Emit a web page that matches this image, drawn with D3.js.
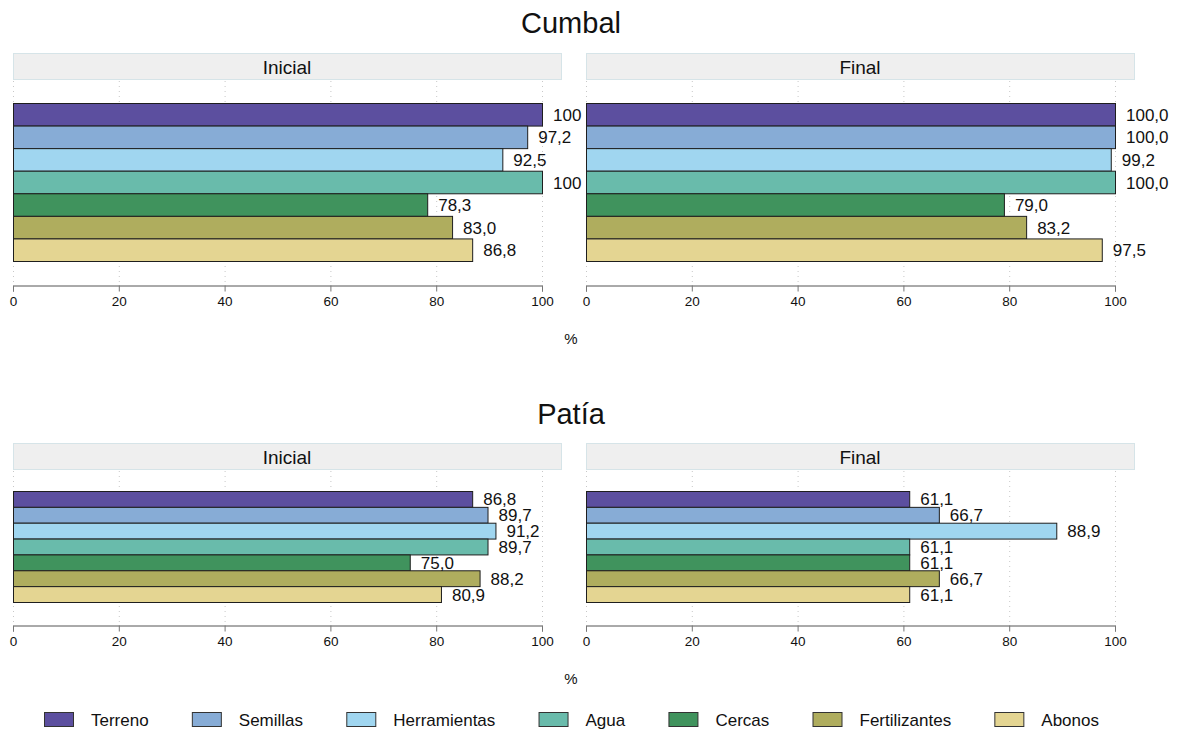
<!DOCTYPE html>
<html><head><meta charset="utf-8">
<script src="https://cdn.jsdelivr.net/npm/d3@7"></script>
<style>body{margin:0;background:#fff}svg{display:block;font-family:"Liberation Sans",Arial,sans-serif}</style>
</head><body><svg id="c" width="1184" height="730"></svg>
<script>
const categories = ["Terreno","Semillas","Herramientas","Agua","Cercas","Fertilizantes","Abonos"];
const colors = ["#5c4f9f","#87acd6","#a0d6f0","#69bbab","#40935d","#afad5e","#e4d592"];
const ticks = [0,20,40,60,80,100];
const cumbalInicial = [100, 97.2, 92.5, 100, 78.3, 83.0, 86.8];
const cumbalInicialLabels = ["100","97,2","92,5","100","78,3","83,0","86,8"];
const cumbalFinal = [100, 100, 99.2, 100, 79.0, 83.2, 97.5];
const cumbalFinalLabels = ["100,0","100,0","99,2","100,0","79,0","83,2","97,5"];
const patiaInicial = [86.8, 89.7, 91.2, 89.7, 75.0, 88.2, 80.9];
const patiaInicialLabels = ["86,8","89,7","91,2","89,7","75,0","88,2","80,9"];
const patiaFinal = [61.1, 66.7, 88.9, 61.1, 61.1, 66.7, 61.1];
const patiaFinalLabels = ["61,1","66,7","88,9","61,1","61,1","66,7","61,1"];

const svg = d3.select("#c");

function panel(x0, headerY, barTop, barBot, axisY, title, values, labels) {
  const g = svg.append("g");
  const x = d3.scaleLinear().domain([0,100]).range([x0, x0+529]);
  const y = d3.scaleBand().domain(categories).range([barTop, barBot]).padding(0);
  // header
  g.append("rect").attr("x", x0+0.5).attr("y", headerY+0.5).attr("width", 548).attr("height", 26)
    .attr("fill","#efefef").attr("stroke","#d6e4e8");
  g.append("text").attr("x", x0+274).attr("y", headerY+14).attr("text-anchor","middle")
    .attr("dominant-baseline","central").attr("font-size",19).attr("fill","#111").text(title);
  // grid
  g.selectAll("line.grid").data(ticks).join("line")
    .attr("x1", d=>x(d)+0.5).attr("x2", d=>x(d)+0.5).attr("y1", headerY+28).attr("y2", axisY)
    .attr("stroke","#c8c8c8").attr("stroke-width",1).attr("stroke-dasharray","1,4");
  // bars
  g.selectAll("rect.bar").data(categories).join("rect")
    .attr("x", x(0)+0.5).attr("y", d=>y(d)+0.5)
    .attr("width", (d,i)=>x(values[i])-x(0)).attr("height", y.bandwidth())
    .attr("fill", (d,i)=>colors[i]).attr("stroke","#1e1e1e").attr("stroke-width",1);
  // labels
  g.selectAll("text.lab").data(categories).join("text")
    .attr("x", (d,i)=>x(values[i])+11).attr("y", d=>y(d)+y.bandwidth()/2+1)
    .attr("dominant-baseline","central").attr("font-size",17).attr("fill","#111")
    .text((d,i)=>labels[i]);
  // axis
  const ax = g.append("g").attr("transform",`translate(0,${axisY+0.5})`)
    .call(d3.axisBottom(x).tickValues(ticks).tickSize(6).tickFormat(d3.format("d")));
  ax.select(".domain").attr("stroke","#555");
  ax.selectAll(".tick line").attr("stroke","#777");
  ax.selectAll(".tick text").attr("font-size",13.5).attr("font-family","Liberation Sans, Arial, sans-serif")
    .attr("fill","#111").attr("dy","0.85em");
}

// Titles
svg.append("text").attr("x",571).attr("y",33).attr("text-anchor","middle").attr("font-size",29).attr("fill","#111").text("Cumbal");
svg.append("text").attr("x",571).attr("y",424).attr("text-anchor","middle").attr("font-size",29).attr("fill","#111").text("Patía");

panel(13, 53, 103, 261, 285, "Inicial", cumbalInicial, cumbalInicialLabels);
panel(586, 53, 103, 261, 285, "Final", cumbalFinal, cumbalFinalLabels);
panel(13, 443, 491, 602, 625, "Inicial", patiaInicial, patiaInicialLabels);
panel(586, 443, 491, 602, 625, "Final", patiaFinal, patiaFinalLabels);

svg.append("text").attr("x",571).attr("y",338).attr("text-anchor","middle").attr("dominant-baseline","central").attr("font-size",15).attr("fill","#111").text("%");
svg.append("text").attr("x",571).attr("y",678).attr("text-anchor","middle").attr("dominant-baseline","central").attr("font-size",15).attr("fill","#111").text("%");

// Legend
let lx = 44;
const lg = svg.append("g");
categories.forEach((c,i)=>{
  lg.append("rect").attr("x",lx+0.5).attr("y",712.5).attr("width",29).attr("height",14)
    .attr("fill",colors[i]).attr("stroke","#333");
  const t = lg.append("text").attr("x",lx+47).attr("y",720).attr("dominant-baseline","central")
    .attr("font-size",17).attr("fill","#111").text(c);
  lx += 47 + t.node().getComputedTextLength() + 43.2;
});
</script></body></html>
